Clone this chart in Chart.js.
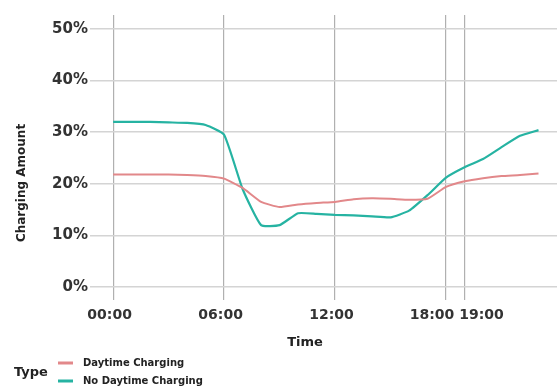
<!DOCTYPE html>
<html>
<head>
<meta charset="utf-8">
<script src="https://cdn.jsdelivr.net/npm/chart.js@4/dist/chart.umd.min.js"></script>
<style>
  html, body { margin: 0; padding: 0; background: #ffffff; }
  #wrap { width: 557px; height: 387px; position: relative; }
</style>
</head>
<body>
<div id="wrap"><canvas id="chart"></canvas></div>
<script>
// Hour of day for each reading
const hours = [0, 1, 2, 3, 4, 5, 6, 7, 8, 9, 10, 11, 12, 13, 14, 15, 16, 17, 18, 19, 20, 21, 22, 23];
// Charging amount (%) per hour
const daytimeCharging = [21.8, 21.8, 21.8, 21.8, 21.7, 21.5, 21.0, 19.2, 16.5, 15.5, 16.0, 16.3, 16.5, 17.0, 17.2, 17.1, 16.9, 17.1, 19.4, 20.5, 21.1, 21.5, 21.7, 22.0];
const noDaytimeCharging = [32.0, 32.0, 32.0, 31.9, 31.8, 31.4, 29.5, 19.0, 12.0, 12.0, 14.3, 14.2, 14.0, 13.9, 13.7, 13.5, 14.8, 17.8, 21.2, 23.2, 24.8, 27.1, 29.3, 30.4];
// Axis ticks
const timeTicks = [0, 6, 12, 18, 19];
const amountTicks = [0, 10, 20, 30, 40, 50];
const seriesNames = ['Daytime Charging', 'No Daytime Charging'];
const legendTitle = 'Type';

const RED = '#e2888a';
const TEAL = '#26b3a2';
const FONT = '"DejaVu Sans", "Open Sans", sans-serif';

function toPoints(ys) { return hours.map((h, i) => ({ x: h, y: ys[i] })); }
function hh(v) { return String(v).padStart(2, '0') + ':00'; }

// Time labels (nudged so the close 18:00 / 19:00 pair do not collide),
// axis titles and the "Type" legend
const annotations = {
  id: 'annotations',
  afterDraw(chart) {
    const ctx = chart.ctx;
    const xs = chart.scales.x;
    ctx.save();
    ctx.fillStyle = '#333';
    ctx.font = 'bold 14px ' + FONT;
    ctx.textAlign = 'center';
    ctx.textBaseline = 'middle';
    const nudge = { 18: -14, 19: 17 };
    timeTicks.forEach(v => {
      const px = xs.getPixelForValue(v) + (nudge[v] !== undefined ? nudge[v] : -3.5);
      ctx.fillText(hh(v), px, 315);
    });
    ctx.restore();

    ctx.save();
    ctx.fillStyle = '#222';
    ctx.font = 'bold 12px ' + FONT;
    ctx.textAlign = 'center';
    ctx.textBaseline = 'middle';
    ctx.translate(22, 183);
    ctx.rotate(-Math.PI / 2);
    ctx.fillText('Charging Amount', 0, 0);
    ctx.restore();

    ctx.save();
    ctx.fillStyle = '#222';
    ctx.font = 'bold 13px ' + FONT;
    ctx.textAlign = 'center';
    ctx.textBaseline = 'middle';
    ctx.fillText('Time', 305, 343);

    // legend
    ctx.textAlign = 'left';
    ctx.font = 'bold 13px ' + FONT;
    ctx.fillText(legendTitle, 14, 373);
    const colors = [RED, TEAL];
    const rows = [363, 381];
    ctx.font = 'bold 10px ' + FONT;
    seriesNames.forEach((name, i) => {
      ctx.strokeStyle = colors[i];
      ctx.lineWidth = 3;
      ctx.beginPath();
      ctx.moveTo(58, rows[i]);
      ctx.lineTo(73, rows[i]);
      ctx.stroke();
      ctx.fillStyle = '#222';
      ctx.fillText(name, 83, rows[i]);
    });
    ctx.restore();
  }
};

new Chart(document.getElementById('chart'), {
  type: 'line',
  data: {
    datasets: [
      { label: seriesNames[0], data: toPoints(daytimeCharging), borderColor: RED, borderWidth: 2, pointRadius: 0, tension: 0.15, fill: false },
      { label: seriesNames[1], data: toPoints(noDaytimeCharging), borderColor: TEAL, borderWidth: 2.2, pointRadius: 0, tension: 0.15, fill: false }
    ]
  },
  options: {
    responsive: true,
    maintainAspectRatio: false,
    animation: false,
    layout: { padding: { top: 15, right: 0, left: 0, bottom: 0 } },
    plugins: { legend: { display: false }, tooltip: { enabled: false } },
    scales: {
      x: {
        type: 'linear',
        min: -1.25,
        max: 24,
        afterBuildTicks(scale) { scale.ticks = timeTicks.map(v => ({ value: v })); },
        afterFit(scale) { scale.height = 87; },
        ticks: { display: false },
        grid: { color: '#b0b0b0', lineWidth: 1.2, drawTicks: false },
        border: { display: false }
      },
      y: {
        type: 'linear',
        min: -2.5,
        max: 52.7,
        afterBuildTicks(scale) { scale.ticks = amountTicks.map(v => ({ value: v })); },
        afterFit(scale) { scale.width = 90; },
        ticks: {
          callback: v => v + '%',
          color: '#333',
          font: { family: FONT, size: 15, weight: 'bold' },
          padding: 2
        },
        grid: { color: '#d4d4d4', lineWidth: 1.5, drawTicks: false },
        border: { display: false }
      }
    }
  },
  plugins: [annotations]
});
</script>
</body>
</html>
